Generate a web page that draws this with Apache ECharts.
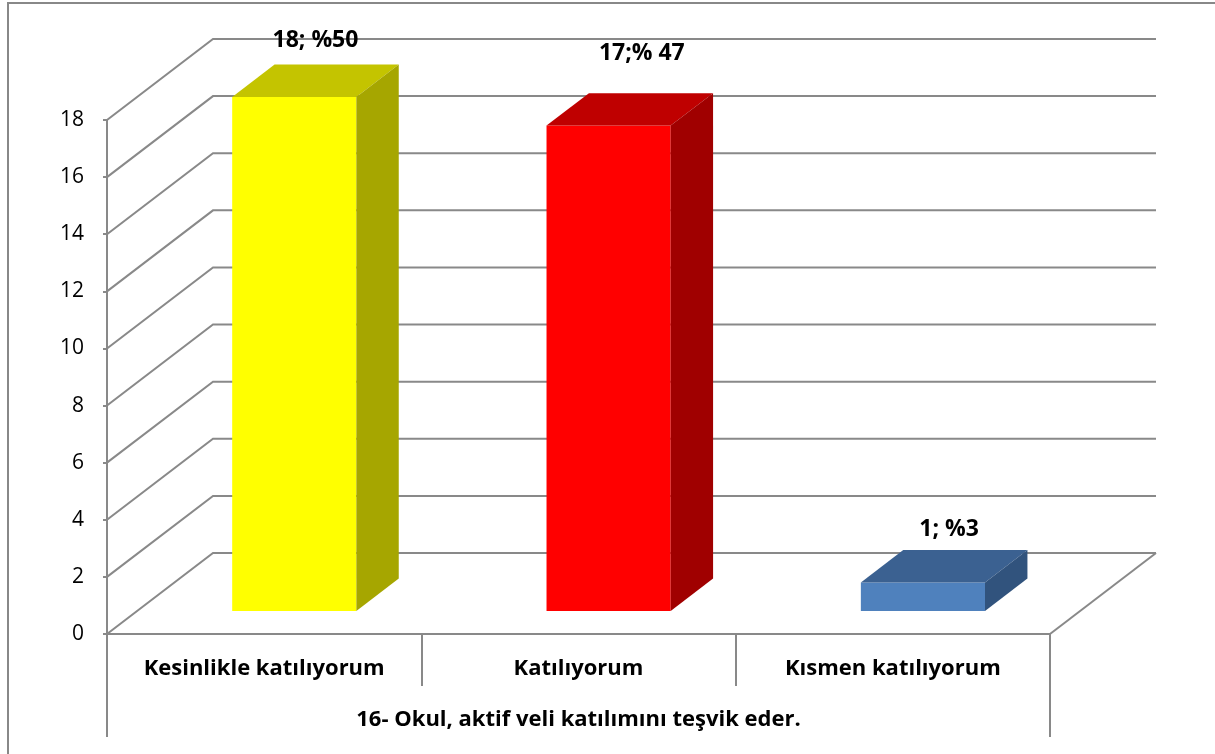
<!DOCTYPE html>
<html>
<head>
<meta charset="utf-8">
<script src="https://cdn.jsdelivr.net/npm/echarts@6/dist/echarts.min.js"></script>
<style>
  html, body { margin: 0; padding: 0; background: #ffffff; }
  #chart { width: 1215px; height: 754px; }
</style>
</head>
<body>
<div id="chart"></div>
<script>
// ---- data ----
const categories = ['Kesinlikle katılıyorum', 'Katılıyorum', 'Kısmen katılıyorum'];
const groupLabel = ['16- Okul, aktif veli katılımını teşvik eder.'];
const counts = [18, 17, 1];
const percentTexts = ['; %50', ';% 47', '; %3'];
const yTicks = [0, 2, 4, 6, 8, 10, 12, 14, 16, 18];

// ---- styling / 3D projection ----
const FONT = '"Open Sans", "Noto Sans", sans-serif';
const GRID_COLOR = '#898989';
const GRID_WIDTH = 2;
const DEPTH_X = 106;   // full depth of the floor, horizontal component
const DEPTH_Y = -81;   // full depth of the floor, vertical component
const BAR_FRONT = 0.284; // bar front plane as fraction of the depth
const BAR_BACK = 0.684;  // bar back plane as fraction of the depth
const BAR_WIDTH = 0.395; // bar width as fraction of the category band
const faceColors = [
  { front: '#FFFF00', top: '#C4C400', side: '#A6A600' },
  { front: '#FF0000', top: '#BF0000', side: '#A00000' },
  { front: '#4F81BD', top: '#3B6191', side: '#31537D' }
];
const labelNudge = [[0, -40], [12, -56], [5, -37]];

const chart = echarts.init(document.getElementById('chart'), null, { renderer: 'canvas' });

function renderWall(params, api) {
  const v = api.value(1);
  const p = api.coord([0, v]);
  const band = api.size([1, 0])[0];
  const xl = p[0] - band / 2;
  const xr = xl + band * categories.length;
  const y = p[1];
  const lineStyle = { stroke: GRID_COLOR, lineWidth: GRID_WIDTH, fill: null };
  const children = [{
    type: 'polyline',
    shape: { points: [[xl, y], [xl + DEPTH_X, y + DEPTH_Y], [xr + DEPTH_X, y + DEPTH_Y]] },
    style: lineStyle
  }];
  if (v === 0) {
    children.push({
      type: 'line',
      shape: { x1: xr, y1: y, x2: xr + DEPTH_X, y2: y + DEPTH_Y },
      style: lineStyle
    });
  }
  return { type: 'group', children };
}

function renderBar(params, api) {
  const i = api.value(0);
  const v = api.value(1);
  const base = api.coord([i, 0]);
  const top = api.coord([i, v]);
  const band = api.size([1, 0])[0];
  const w = band * BAR_WIDTH;
  const x0 = base[0] - w / 2 + DEPTH_X * BAR_FRONT;
  const yb = base[1] + DEPTH_Y * BAR_FRONT;
  const yt = top[1] + DEPTH_Y * BAR_FRONT;
  const ddx = DEPTH_X * (BAR_BACK - BAR_FRONT);
  const ddy = DEPTH_Y * (BAR_BACK - BAR_FRONT);
  const c = faceColors[i];
  const nudge = labelNudge[i];
  return {
    type: 'group',
    children: [
      {
        type: 'polygon',
        shape: { points: [[x0, yt], [x0 + w, yt], [x0 + w, yb], [x0, yb]] },
        style: { fill: c.front }
      },
      {
        type: 'polygon',
        shape: { points: [[x0, yt], [x0 + w, yt], [x0 + w + ddx, yt + ddy], [x0 + ddx, yt + ddy]] },
        style: { fill: c.top }
      },
      {
        type: 'polygon',
        shape: { points: [[x0 + w, yt], [x0 + w + ddx, yt + ddy], [x0 + w + ddx, yb + ddy], [x0 + w, yb]] },
        style: { fill: c.side }
      },
      {
        type: 'text',
        style: {
          text: v + percentTexts[i],
          x: x0 + w / 2 + ddx / 2 + nudge[0],
          y: yt + ddy / 2 + nudge[1],
          fill: '#000000',
          font: 'bold 23px ' + FONT,
          align: 'center',
          verticalAlign: 'middle'
        }
      }
    ]
  };
}

const option = {
  backgroundColor: '#ffffff',
  animation: false,
  graphic: [{
    type: 'rect',
    shape: { x: 8, y: 3, width: 1400, height: 900 },
    style: { fill: null, stroke: '#888888', lineWidth: 2 },
    silent: true
  }],
  grid: { left: 107, right: 165, top: 120, bottom: 120 },
  xAxis: [
    {
      type: 'category',
      data: categories,
      boundaryGap: true,
      axisLine: { show: true, lineStyle: { color: GRID_COLOR, width: GRID_WIDTH } },
      axisTick: { show: true, interval: 0, length: 52, lineStyle: { color: GRID_COLOR, width: GRID_WIDTH } },
      axisLabel: { interval: 0, margin: 24, color: '#000', fontFamily: FONT, fontWeight: 'bold', fontSize: 22 },
      splitLine: { show: false }
    },
    {
      type: 'category',
      data: groupLabel,
      position: 'bottom',
      boundaryGap: true,
      axisLine: { show: false },
      axisTick: { show: true, interval: 0, length: 103, lineStyle: { color: GRID_COLOR, width: GRID_WIDTH } },
      axisLabel: { interval: 0, margin: 75, color: '#000', fontFamily: FONT, fontWeight: 'bold', fontSize: 22 },
      splitLine: { show: false }
    }
  ],
  yAxis: {
    type: 'value',
    min: 0,
    max: 18,
    interval: 2,
    axisLine: { show: true, lineStyle: { color: GRID_COLOR, width: GRID_WIDTH } },
    axisTick: { show: true, length: 4, lineStyle: { color: GRID_COLOR, width: GRID_WIDTH } },
    axisLabel: { margin: 23, color: '#000', fontFamily: FONT, fontSize: 21 },
    splitLine: { show: false }
  },
  series: [
    {
      type: 'custom',
      name: 'walls',
      coordinateSystem: 'cartesian2d',
      xAxisIndex: 0,
      clip: false,
      silent: true,
      z: 1,
      renderItem: renderWall,
      encode: { x: 0, y: 1 },
      data: yTicks.map(v => [0, v])
    },
    {
      type: 'custom',
      name: 'bars',
      coordinateSystem: 'cartesian2d',
      xAxisIndex: 0,
      clip: false,
      z: 3,
      renderItem: renderBar,
      encode: { x: 0, y: 1 },
      data: counts.map((v, i) => [i, v])
    }
  ]
};

chart.setOption(option);
</script>
</body>
</html>
